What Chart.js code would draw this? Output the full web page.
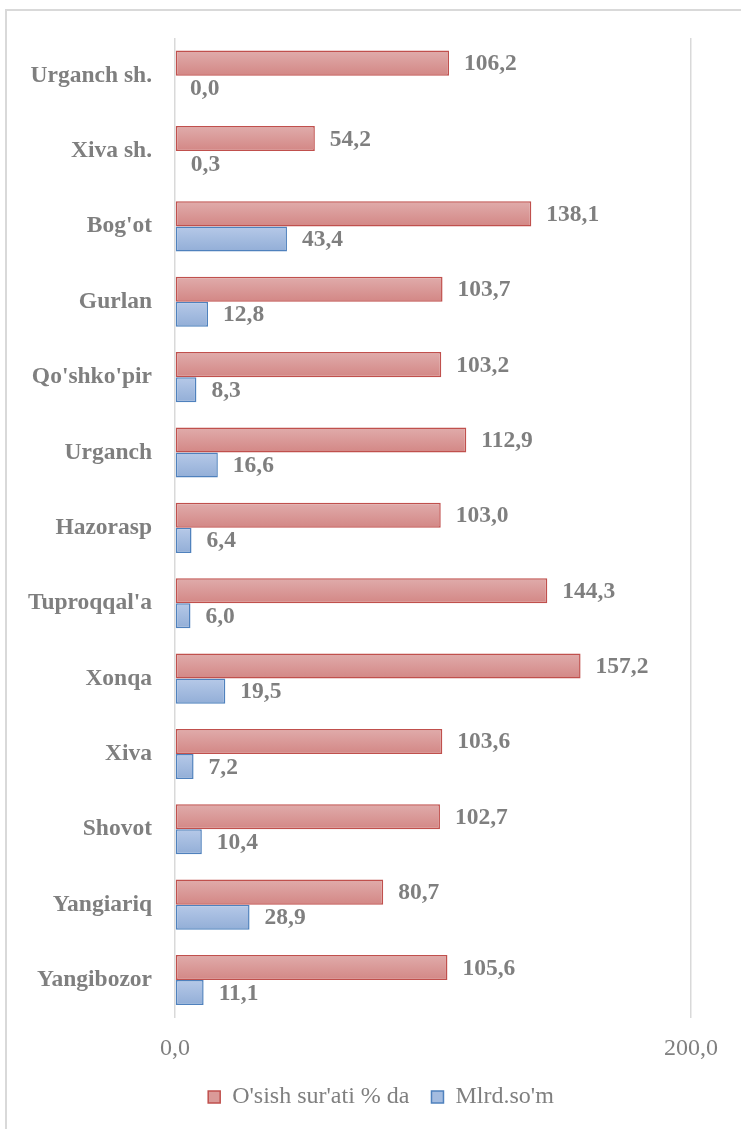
<!DOCTYPE html>
<html>
<head>
<meta charset="utf-8">
<script src="https://cdn.jsdelivr.net/npm/chart.js@4.4.1/dist/chart.umd.min.js"></script>
<style>
  html, body { margin: 0; padding: 0; background: #ffffff; }
  #frame { position: absolute; left: 5px; top: 9px; width: 800px; height: 1200px; border: 2px solid #d9d9d9; box-sizing: border-box; }
  #c { position: absolute; left: 0; top: 0; }
</style>
</head>
<body>
<div id="frame"></div>
<canvas id="c" width="741" height="1129"></canvas>
<script>
const categories = ["Urganch sh.", "Xiva sh.", "Bog'ot", "Gurlan", "Qo'shko'pir", "Urganch", "Hazorasp", "Tuproqqal'a", "Xonqa", "Xiva", "Shovot", "Yangiariq", "Yangibozor"];
const growthPct = [106.2, 54.2, 138.1, 103.7, 103.2, 112.9, 103.0, 144.3, 157.2, 103.6, 102.7, 80.7, 105.6];
const billionSom = [0.0, 0.3, 43.4, 12.8, 8.3, 16.6, 6.4, 6.0, 19.5, 7.2, 10.4, 28.9, 11.1];
const seriesNames = ["O'sish sur'ati % da", "Mlrd.so'm"];
const xTicks = [0, 200];

const CAT_PCT = 0.665;
const FONT = "'Liberation Serif', 'Times New Roman', serif";
const GRAY = '#7f7f7f';

function fmt(v) { return v.toFixed(1).replace('.', ','); }

function gradientFill(top, bottom, solid) {
  return function (ctx) {
    const chart = ctx.chart;
    const y = chart.scales && chart.scales.y;
    if (!chart.chartArea || !y || ctx.type !== 'data') return solid;
    const c = y.getPixelForValue(ctx.dataIndex);
    const band = (y.bottom - y.top) / categories.length * CAT_PCT;
    const t = ctx.datasetIndex === 0 ? c - band / 2 : c;
    const g = chart.ctx.createLinearGradient(0, t, 0, t + band / 2);
    g.addColorStop(0, top);
    g.addColorStop(1, bottom);
    return g;
  };
}

const valueLabels = {
  id: 'valueLabels',
  afterDatasetsDraw(chart) {
    const ctx = chart.ctx;
    ctx.save();
    ctx.font = 'bold 23.5px ' + FONT;
    ctx.fillStyle = GRAY;
    ctx.textAlign = 'left';
    ctx.textBaseline = 'middle';
    chart.data.datasets.forEach((ds, di) => {
      const meta = chart.getDatasetMeta(di);
      meta.data.forEach((el, i) => {
        ctx.fillText(fmt(ds.data[i]), el.x + 15, el.y + 1);
      });
    });
    ctx.restore();
  }
};

new Chart(document.getElementById('c'), {
  type: 'bar',
  data: {
    labels: categories,
    datasets: [
      {
        label: seriesNames[0],
        data: growthPct,
        backgroundColor: gradientFill('#e0acab', '#d38785', '#da9a98'),
        borderColor: '#c0504d',
        borderWidth: 1.5,
        borderSkipped: false,
        categoryPercentage: CAT_PCT,
        barPercentage: 1.0
      },
      {
        label: seriesNames[1],
        data: billionSom,
        backgroundColor: gradientFill('#b6c9e8', '#92aed7', '#a4bce0'),
        borderColor: '#4f81bd',
        borderWidth: 1.5,
        borderSkipped: false,
        categoryPercentage: CAT_PCT,
        barPercentage: 1.0
      }
    ]
  },
  options: {
    indexAxis: 'y',
    responsive: false,
    animation: false,
    devicePixelRatio: 1,
    layout: { padding: { top: 38, left: 21, right: 0, bottom: 10 } },
    scales: {
      x: {
        min: 0,
        max: 200,
        afterBuildTicks(scale) { scale.ticks = xTicks.map(v => ({ value: v })); },
        afterFit(scale) { scale.paddingRight = 50; scale.height -= 17.5; },
        grid: { color: '#d9d9d9', lineWidth: 1.5, drawTicks: false },
        border: { display: false },
        ticks: {
          padding: 17,
          color: GRAY,
          font: { family: FONT, size: 24 },
          callback: (v) => fmt(v)
        }
      },
      y: {
        afterFit(scale) { scale.width = 154; },
        grid: { display: false, drawTicks: false },
        border: { display: false },
        ticks: {
          padding: 23,
          color: GRAY,
          font: { family: FONT, size: 23.5, weight: 'bold' }
        }
      }
    },
    plugins: {
      legend: {
        position: 'bottom',
        labels: {
          boxWidth: 12,
          boxHeight: 12,
          padding: 22,
          color: GRAY,
          font: { family: FONT, size: 24 },
          generateLabels(chart) {
            const fills = ['#da9a98', '#a4bce0'];
            const strokes = ['#c0504d', '#4f81bd'];
            return chart.data.datasets.map((ds, i) => ({
              text: ds.label,
              fillStyle: fills[i],
              strokeStyle: strokes[i],
              lineWidth: 1.5,
              hidden: false,
              datasetIndex: i,
              fontColor: GRAY
            }));
          }
        }
      },
      tooltip: { enabled: false }
    }
  },
  plugins: [valueLabels]
});
</script>
</body>
</html>
